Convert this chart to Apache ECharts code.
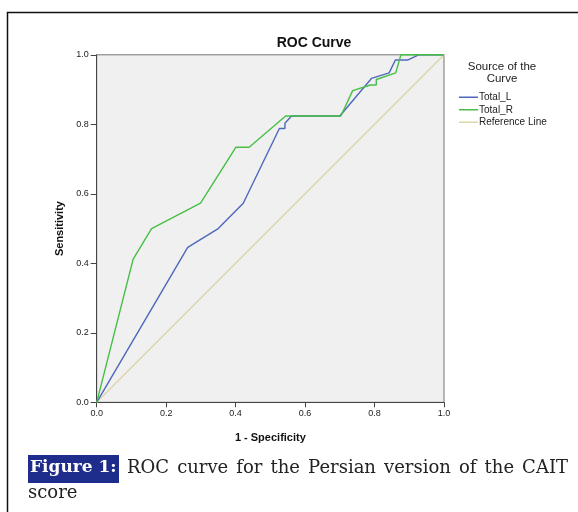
<!DOCTYPE html>
<html>
<head>
<meta charset="utf-8">
<script src="https://cdn.jsdelivr.net/npm/echarts@6/dist/echarts.min.js"></script>
<style>
html,body{margin:0;padding:0;background:#fff;}
#c{width:578px;height:512px;}
</style>
</head>
<body>
<div id="c"></div>
<script>
// ROC curve data (1 - Specificity, Sensitivity)
const fprL = [0, 0.262, 0.35, 0.422, 0.526, 0.542, 0.542, 0.561, 0.70, 0.791, 0.842, 0.860, 0.895, 0.927, 1.0];
const tprL = [0, 0.446, 0.50, 0.573, 0.788, 0.788, 0.803, 0.824, 0.824, 0.932, 0.948, 0.985, 0.985, 1.0, 1.0];
const fprR = [0, 0.105, 0.158, 0.299, 0.401, 0.439, 0.544, 0.703, 0.737, 0.788, 0.805, 0.805, 0.861, 0.876, 1.0];
const tprR = [0, 0.412, 0.50, 0.573, 0.734, 0.734, 0.824, 0.824, 0.897, 0.913, 0.913, 0.929, 0.948, 1.0, 1.0];
const refX = [0, 1];
const refY = [0, 1];
const seriesNames = ['Total_L', 'Total_R', 'Reference Line'];
const captionLabel = 'Figure 1:';
const captionLine1 = 'ROC curve for the Persian version of the CAIT';
const captionLine2 = 'score';

const zip = (a, b) => a.map((v, i) => [v, b[i]]);
const sans = 'Liberation Sans, Arial, sans-serif';

// justify caption words between two x positions
const cv = document.createElement('canvas').getContext('2d');
const capFont = '18px "DejaVu Serif"';
cv.font = capFont;
const words = captionLine1.split(' ');
const startX = 127, endX = 568;
const widths = words.map(w => cv.measureText(w).width);
const totalW = widths.reduce((s, w) => s + w, 0);
const gap = (endX - startX - totalW) / (words.length - 1);
const capEls = [];
let cx = startX;
words.forEach((w, i) => {
  capEls.push({type: 'text', left: cx, top: 459, style: {text: w, font: capFont, fill: '#222'}});
  cx += widths[i] + gap;
});

const chart = echarts.init(document.getElementById('c'), null, {renderer: 'canvas'});
const axisLabel = {fontSize: 9, color: '#222', fontFamily: sans, formatter: v => v.toFixed(1)};
chart.setOption({
  animation: false,
  backgroundColor: '#fff',
  grid: {
    left: 96.7, right: 134, top: 54.8, bottom: 109.7,
    show: true, backgroundColor: '#f0f0f0', borderColor: '#777', borderWidth: 1
  },
  legend: {
    orient: 'vertical', left: 454, top: 86,
    data: seriesNames, icon: 'rect', itemWidth: 19, itemHeight: 1.5, itemGap: 0,
    textStyle: {fontSize: 10, color: '#222', fontFamily: sans, padding: [0, 0, 0, -4], lineHeight: 12.5}
  },
  xAxis: {
    type: 'value', min: 0, max: 1, interval: 0.2,
    name: '1 - Specificity', nameLocation: 'middle', nameGap: 30,
    nameTextStyle: {fontSize: 11, fontWeight: 'bold', color: '#111', fontFamily: sans},
    axisLine: {show: true, lineStyle: {color: '#444', width: 1}},
    axisTick: {show: true, length: 5, lineStyle: {color: '#444'}},
    axisLabel: Object.assign({margin: 7}, axisLabel),
    splitLine: {show: false}
  },
  yAxis: {
    type: 'value', min: 0, max: 1, interval: 0.2,
    name: 'Sensitivity', nameLocation: 'middle', nameGap: 26, nameRotate: 90,
    nameTextStyle: {fontSize: 11, fontWeight: 'bold', color: '#111', fontFamily: sans},
    axisLine: {show: true, lineStyle: {color: '#444', width: 1}},
    axisTick: {show: true, length: 6, lineStyle: {color: '#444'}},
    axisLabel: Object.assign({margin: 8}, axisLabel),
    splitLine: {show: false}
  },
  series: [
    {name: seriesNames[2], type: 'line', data: zip(refX, refY), showSymbol: false, symbol: 'none',
     lineStyle: {color: '#dcd5a8', width: 1.3}, itemStyle: {color: '#dcd5a8'}, z: 1},
    {name: seriesNames[0], type: 'line', data: zip(fprL, tprL), showSymbol: false, symbol: 'none',
     lineStyle: {color: '#4f67bd', width: 1.4}, itemStyle: {color: '#4f67bd'}, z: 2},
    {name: seriesNames[1], type: 'line', data: zip(fprR, tprR), showSymbol: false, symbol: 'none',
     lineStyle: {color: '#47bf47', width: 1.4}, itemStyle: {color: '#47bf47'}, z: 3}
  ],
  graphic: [
    {type: 'text', x: 314, y: 36, style: {text: 'ROC Curve', font: 'bold 14px "Liberation Sans"', fill: '#111', textAlign: 'center', textVerticalAlign: 'top'}},
    {type: 'text', x: 502, y: 61, style: {text: 'Source of the\nCurve', font: '11.5px "Liberation Sans"', fill: '#222', lineHeight: 12, textAlign: 'center', textVerticalAlign: 'top'}},
    {type: 'polyline', shape: {points: [[7.5, 512], [7.5, 12.5], [578, 12.5]]}, style: {stroke: '#111', lineWidth: 1.5, fill: null}},
    {type: 'rect', shape: {x: 28, y: 455, width: 91, height: 28}, style: {fill: '#1e2c8c'}},
    {type: 'text', left: 30, top: 459, style: {text: captionLabel, font: 'bold 17px "DejaVu Serif"', fill: '#fff'}},
    ...capEls,
    {type: 'text', left: 28, top: 484, style: {text: captionLine2, font: capFont, fill: '#222'}}
  ]
});
</script>
</body>
</html>
